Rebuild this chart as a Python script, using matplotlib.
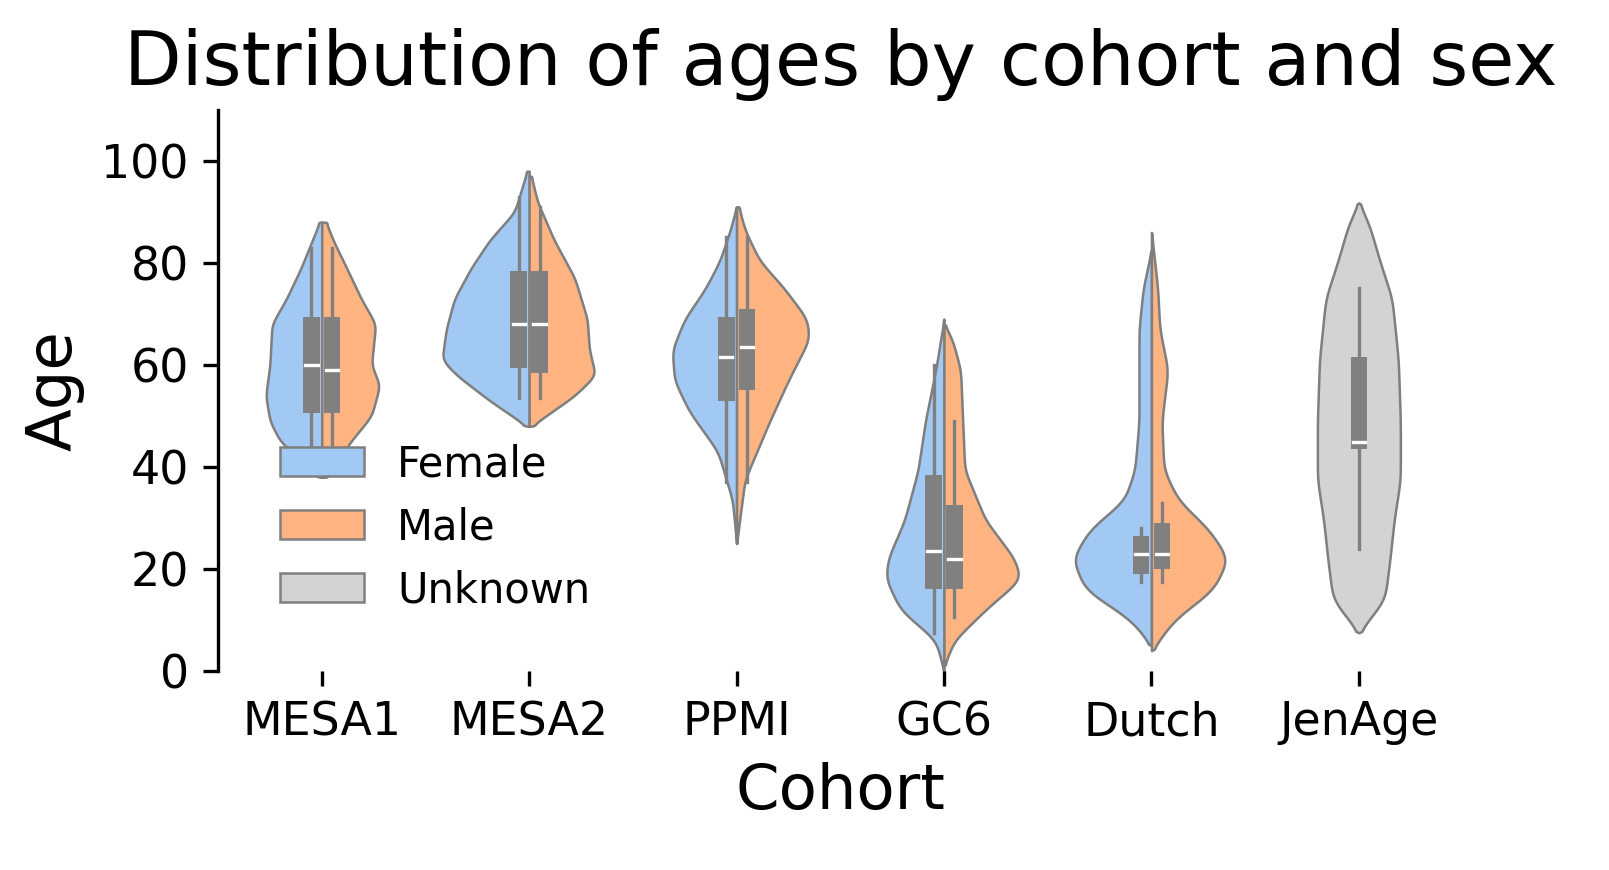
import numpy as np
from matplotlib import pyplot as plt
from matplotlib.patches import Patch

cohorts = ['MESA1', 'MESA2', 'PPMI', 'GC6', 'Dutch', 'JenAge']

# violin outlines: (ages, half widths)
female_ages = [
    [38, 45, 49, 54, 60, 68, 73, 79, 84, 88],
    [48, 53, 58, 61, 67, 73, 79, 84.5, 90, 98],
    [25, 33.5, 43, 51, 57, 63, 69, 75, 80.5, 86.5, 91],
    [0, 6, 12, 18, 22, 29.6, 39.4, 49, 59, 69],
    [5, 10, 16, 22, 27.6, 33.5, 39.4, 49, 59, 67, 75, 82.5],
]
female_width = [
    [0.01, 0.2, 0.25, 0.27, 0.25, 0.24, 0.17, 0.1, 0.05, 0.01],
    [0.01, 0.19, 0.35, 0.42, 0.40, 0.36, 0.28, 0.19, 0.07, 0.01],
    [0.0, 0.02, 0.09, 0.23, 0.30, 0.31, 0.25, 0.15, 0.08, 0.03, 0.0],
    [0.0, 0.04, 0.21, 0.28, 0.27, 0.19, 0.125, 0.09, 0.04, 0.0],
    [0.0, 0.10, 0.32, 0.38, 0.30, 0.13, 0.08, 0.06, 0.06, 0.06, 0.04, 0.0],
]
male_ages = [
    [38, 45, 50, 56, 60, 68, 73, 79, 84, 88],
    [48, 54, 58, 63, 69, 77, 84.5, 92, 97],
    [25, 37.5, 49, 57, 65, 69, 75, 80.5, 86.5, 91],
    [1, 6, 12, 18, 22, 29.6, 39.4, 49, 59, 65, 68],
    [4, 10, 16, 22, 27.6, 33.5, 39.4, 49, 59, 67, 75, 86],
]
male_width = [
    [0.02, 0.14, 0.24, 0.28, 0.24, 0.26, 0.19, 0.12, 0.06, 0.02],
    [0.01, 0.22, 0.32, 0.29, 0.28, 0.22, 0.12, 0.04, 0.01],
    [0.0, 0.04, 0.16, 0.25, 0.35, 0.34, 0.23, 0.11, 0.04, 0.01],
    [0.0, 0.05, 0.20, 0.37, 0.34, 0.20, 0.10, 0.09, 0.08, 0.04, 0.0],
    [0.0, 0.11, 0.30, 0.37, 0.28, 0.13, 0.06, 0.05, 0.08, 0.04, 0.03, 0.0],
]
unknown_ages = [7.5, 14, 22, 29.6, 37.5, 49, 61, 73, 80.5, 87.5, 91.8]
unknown_width = [0.0, 0.125, 0.15, 0.17, 0.2, 0.2, 0.19, 0.16, 0.10, 0.05, 0.0]

# box stats: whisker low, q1, median, q3, whisker high
female_box = [[44, 50.5, 60, 69.5, 83], [53.5, 59.5, 68, 78.5, 93], [37, 53, 61.5, 69.5, 85],
              [7.5, 16, 23.5, 38.5, 60], [17.5, 19, 23, 26.5, 28]]
male_box = [[43.5, 50.5, 59, 69.5, 83], [53.5, 58.5, 68, 78.5, 91], [37, 55, 63.5, 71, 85],
            [10.5, 16, 22, 32.5, 49], [17.5, 20, 23, 29, 33]]
unknown_box = [24, 43.5, 45, 61.5, 75]

c_f, c_m, c_u = '#a1c9f4', '#ffb482', '#d3d3d3'
edge = '#7f7f7f'

fig = plt.figure(figsize=(1609 / 300, 870 / 300), dpi=300)
ax = fig.add_axes([0.1355, 0.2287, 0.7735, 0.6449])


def smooth_outline(ages, w):
    # rounder outline through the read points, just for drawing
    a = np.linspace(ages[0], ages[-1], 300)
    v = np.interp(a, ages, w)
    k = np.hanning(31)
    k /= k.sum()
    v = np.convolve(np.pad(v, 15, mode='edge'), k, mode='valid')
    v[0] = w[0]
    v[-1] = w[-1]
    return a, v


def half(x, ages, w, side, color):
    a, v = smooth_outline(ages, w)
    ax.fill_betweenx(a, x, x + side * v, facecolor=color, edgecolor=edge, linewidth=0.6)


def box(x, s):
    lo, q1, med, q3, hi = s
    ax.plot([x, x], [lo, hi], color='grey', lw=0.8, zorder=3)
    ax.bar(x, q3 - q1, bottom=q1, width=0.08, color='grey', zorder=3)
    ax.plot([x - 0.03, x + 0.03], [med, med], color='white', lw=0.8, zorder=4)


for i in range(5):
    half(i, female_ages[i], female_width[i], -1, c_f)
    half(i, male_ages[i], male_width[i], 1, c_m)
    box(i - 0.05, female_box[i])
    box(i + 0.05, male_box[i])

a, uw = smooth_outline(unknown_ages, unknown_width)
ax.fill_betweenx(a, 5 - uw, 5 + uw, facecolor=c_u, edgecolor=edge, linewidth=0.6)
box(5, unknown_box)

ax.set_xlim(-0.5, 5.5)
ax.set_ylim(0, 110)
ax.set_xticks(range(6))
ax.set_xticklabels(cohorts, fontsize=11)
ax.set_yticks(range(0, 101, 20))
ax.tick_params(axis='y', labelsize=11)
for s in ['top', 'right', 'bottom']:
    ax.spines[s].set_visible(False)
ax.set_xlabel('Cohort', fontsize=15)
ax.set_ylabel('Age', fontsize=15)
ax.set_title('Distribution of ages by cohort and sex', fontsize=18)

handles = [Patch(facecolor=c, edgecolor=edge, linewidth=0.6) for c in (c_f, c_m, c_u)]
ax.legend(handles, ['Female', 'Male', 'Unknown'], loc='lower left',
          bbox_to_anchor=(0.02, 0.04), frameon=False, fontsize=10)

fig.savefig('out.png', dpi=300)
